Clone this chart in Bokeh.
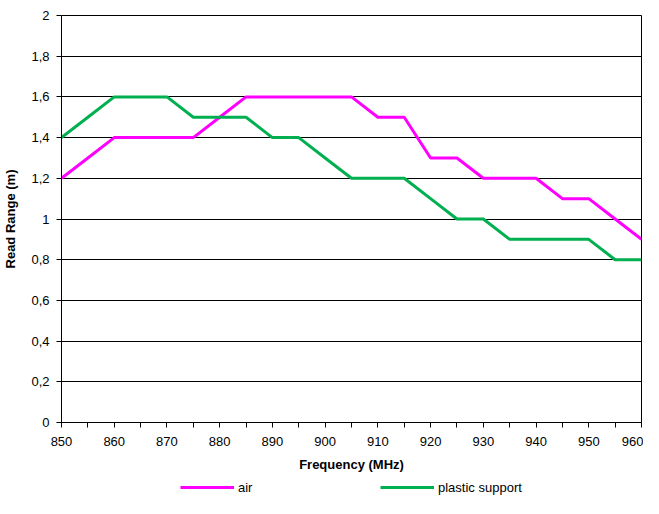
from bokeh.plotting import figure
from bokeh.models import FixedTicker, CustomJSTickFormatter, Legend, LegendItem, Range1d
from bokeh.layouts import column
from bokeh.embed import file_html
from bokeh.resources import INLINE

freq = [850, 855, 860, 865, 870, 875, 880, 885, 890, 895, 900, 905,
        910, 915, 920, 925, 930, 935, 940, 945, 950, 955, 960]
air = [1.2, 1.3, 1.4, 1.4, 1.4, 1.4, 1.5, 1.6, 1.6, 1.6, 1.6, 1.6,
       1.5, 1.5, 1.3, 1.3, 1.2, 1.2, 1.2, 1.1, 1.1, 1.0, 0.9]
plastic = [1.4, 1.5, 1.6, 1.6, 1.6, 1.5, 1.5, 1.5, 1.4, 1.4, 1.3, 1.2,
           1.2, 1.2, 1.1, 1.0, 1.0, 0.9, 0.9, 0.9, 0.9, 0.8, 0.8]
series_names = ["air", "plastic support"]
x_ticks = [850, 860, 870, 880, 890, 900, 910, 920, 930, 940, 950, 960]
x_minor = [855, 865, 875, 885, 895, 905, 915, 925, 935, 945, 955]
y_ticks = [0, 0.2, 0.4, 0.6, 0.8, 1.0, 1.2, 1.4, 1.6, 1.8, 2.0]

FONT = "Liberation Sans"
AIR_COLOR = "#FF00FF"
PLASTIC_COLOR = "#00B050"

p = figure(width=643, height=474, output_backend="svg", toolbar_location=None,
           x_range=Range1d(850, 960), y_range=Range1d(0, 2),
           min_border_left=61, min_border_right=2, min_border_top=15, min_border_bottom=52)
p.background_fill_color = "white"
p.border_fill_color = "white"
p.outline_line_color = "black"
p.outline_line_width = 1

p.xaxis.ticker = FixedTicker(ticks=x_ticks, minor_ticks=x_minor)
p.yaxis.ticker = FixedTicker(ticks=y_ticks)
p.yaxis.formatter = CustomJSTickFormatter(
    code="return (Math.round(tick*10)/10).toString().replace('.', ',');")
for ax in (p.xaxis[0], p.yaxis[0]):
    ax.axis_line_color = "black"
    ax.axis_line_width = 1
    ax.major_tick_line_color = "black"
    ax.minor_tick_line_color = "black"
    ax.major_tick_in = 0
    ax.major_tick_out = 5
    ax.minor_tick_in = 0
    ax.minor_tick_out = 5
    ax.major_label_text_font = FONT
    ax.major_label_text_font_size = "13px"
    ax.major_label_text_color = "black"
    ax.axis_label_text_font = FONT
    ax.axis_label_text_font_size = "13px"
    ax.axis_label_text_font_style = "bold"
    ax.axis_label_text_color = "black"
p.yaxis.minor_tick_line_color = None
p.xaxis.axis_label = "Frequency (MHz)"
p.yaxis.axis_label = "Read Range (m)"
p.xaxis.major_label_standoff = 9
p.yaxis.major_label_standoff = 7
p.xaxis.axis_label_standoff = 8
p.yaxis.axis_label_standoff = 10

p.xgrid.grid_line_color = None
p.ygrid.grid_line_color = "black"
p.ygrid.grid_line_width = 1

p.line(freq, air, line_color=AIR_COLOR, line_width=3)
p.line(freq, plastic, line_color=PLASTIC_COLOR, line_width=3)

# legend strip below the chart (proxy renderers lie outside the visible range)
lg = figure(width=643, height=24, output_backend="svg", toolbar_location=None,
            x_range=Range1d(0, 1), y_range=Range1d(0, 1),
            min_border_left=0, min_border_right=0, min_border_top=0, min_border_bottom=0)
lg.axis.visible = False
lg.grid.grid_line_color = None
lg.outline_line_color = None
lg.background_fill_color = "white"
lg.border_fill_color = "white"
la = lg.line([-10, -9], [-10, -9], line_color=AIR_COLOR, line_width=3)
lp = lg.line([-10, -9], [-10, -9], line_color=PLASTIC_COLOR, line_width=3)
legend = Legend(items=[LegendItem(label=series_names[0], renderers=[la]),
                       LegendItem(label=series_names[1], renderers=[lp])],
                orientation="horizontal", location=(119, 1),
                label_text_font=FONT, label_text_font_size="13px",
                label_text_color="black",
                glyph_width=54, label_standoff=4, spacing=122,
                border_line_color=None, background_fill_alpha=0,
                margin=0, padding=2)
lg.add_layout(legend, "center")

open("out.html", "w").write(file_html(column(p, lg, spacing=0), INLINE))
